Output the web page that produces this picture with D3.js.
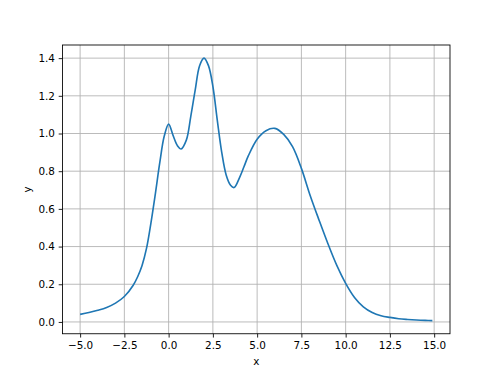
<!DOCTYPE html>
<html>
<head>
<meta charset="utf-8">
<script src="https://cdn.jsdelivr.net/npm/d3@7"></script>
<style>
  html, body { margin: 0; padding: 0; background: #fff; }
  svg text { font-family: "DejaVu Sans", sans-serif; fill: #000; }
</style>
</head>
<body>
<svg id="viz" width="500" height="375"></svg>
<script>
// Curve samples
const xVals = [-5, -4.5, -4, -3.5, -3, -2.5, -2, -1.75, -1.5, -1.25, -1, -0.75, -0.5, -0.25, 0,
  0.25, 0.5, 0.7, 1.0, 1.25, 1.5, 1.75, 2.0, 2.25, 2.5, 2.75, 3.0, 3.25, 3.5, 3.7, 4.0, 4.25,
  4.5, 5.0, 5.5, 6.0, 6.5, 7.0, 7.5, 8.0, 8.5, 9.0, 9.5, 10.0, 10.5, 11, 11.5, 12, 12.5,
  13, 13.5, 14, 14.5, 14.9];
const yVals = [0.040, 0.050, 0.062, 0.077, 0.100, 0.135, 0.195, 0.24, 0.30, 0.39, 0.525, 0.68, 0.845, 0.985, 1.05,
  0.99, 0.935, 0.918, 0.965, 1.09, 1.23, 1.36, 1.40, 1.36, 1.25, 1.07, 0.90, 0.78, 0.725, 0.713, 0.765, 0.822,
  0.881, 0.97, 1.015, 1.027, 0.995, 0.93, 0.815, 0.67, 0.54, 0.415, 0.30, 0.205, 0.13, 0.08, 0.05, 0.033, 0.024,
  0.017, 0.013, 0.010, 0.008, 0.007];

const xTicks = [-5, -2.5, 0, 2.5, 5, 7.5, 10, 12.5, 15];
const yTicks = [0, 0.2, 0.4, 0.6, 0.8, 1.0, 1.2, 1.4];

const W = 500, H = 375;
const M = {l: 62.5, r: 50, t: 45, b: 41.25};
const innerW = W - M.l - M.r, innerH = H - M.t - M.b;
const FS = 10.4, TICK = 3.8;

const data = xVals.map((x, i) => ({x, y: yVals[i]}));

// matplotlib style 5% margins
function padded(ext) {
  const s = ext[1] - ext[0];
  return [ext[0] - 0.05 * s, ext[1] + 0.05 * s];
}

const x = d3.scaleLinear().domain(padded(d3.extent(xVals))).range([0, innerW]);
const y = d3.scaleLinear().domain(padded(d3.extent(yVals))).range([innerH, 0]);

const svg = d3.select("#viz");
const g = svg.append("g").attr("transform", `translate(${M.l},${M.t})`);

// grid
g.append("g").selectAll("line").data(xTicks).join("line")
  .attr("x1", d => x(d)).attr("x2", d => x(d))
  .attr("y1", 0).attr("y2", innerH)
  .attr("stroke", "#b0b0b0").attr("stroke-width", 0.87);
g.append("g").selectAll("line").data(yTicks).join("line")
  .attr("x1", 0).attr("x2", innerW)
  .attr("y1", d => y(d)).attr("y2", d => y(d))
  .attr("stroke", "#b0b0b0").attr("stroke-width", 0.87);

// the curve
const line = d3.line().x(d => x(d.x)).y(d => y(d.y)).curve(d3.curveCatmullRom.alpha(0.5));
g.append("path").datum(data)
  .attr("d", line)
  .attr("fill", "none")
  .attr("stroke", "#1f77b4")
  .attr("stroke-width", 1.63)
  .attr("stroke-linejoin", "round");

// axes
const fmt = d3.format(".1f");
const gx = g.append("g").attr("transform", `translate(0,${innerH})`)
  .call(d3.axisBottom(x).tickValues(xTicks).tickFormat(fmt).tickSize(TICK).tickPadding(TICK).tickSizeOuter(0));
const gy = g.append("g")
  .call(d3.axisLeft(y).tickValues(yTicks).tickFormat(fmt).tickSize(TICK).tickPadding(TICK).tickSizeOuter(0));
[gx, gy].forEach(a => {
  a.select(".domain").remove();
  a.selectAll("line").attr("stroke", "#000").attr("stroke-width", 0.87);
  a.selectAll("text").attr("font-family", "DejaVu Sans").attr("font-size", FS).attr("fill", "#000");
});

// frame
g.append("rect").attr("x", 0).attr("y", 0).attr("width", innerW).attr("height", innerH)
  .attr("fill", "none").attr("stroke", "#000").attr("stroke-width", 0.87);

// axis labels
svg.append("text").attr("x", M.l + innerW / 2).attr("y", 365)
  .attr("text-anchor", "middle").attr("font-size", FS).text("x");
svg.append("text").attr("transform", `translate(31,${M.t + innerH / 2}) rotate(-90)`)
  .attr("text-anchor", "middle").attr("font-size", FS).text("y");
</script>
</body>
</html>
